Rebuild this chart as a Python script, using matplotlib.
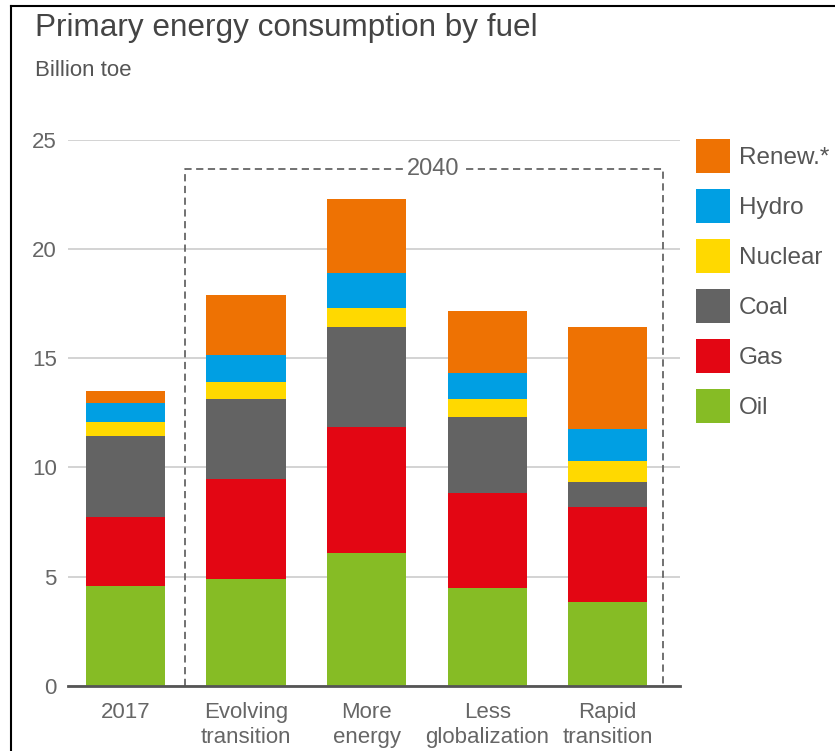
import matplotlib.pyplot as plt
from matplotlib.lines import Line2D

categories = ["2017", "Evolving\ntransition", "More\nenergy", "Less\nglobalization", "Rapid\ntransition"]
fuels = ["Oil", "Gas", "Coal", "Nuclear", "Hydro", "Renew.*"]
oil = [4.57, 4.87, 6.09, 4.49, 3.83]
gas = [3.14, 4.61, 5.75, 4.35, 4.36]
coal = [3.71, 3.64, 4.58, 3.47, 1.13]
nuclear = [0.65, 0.79, 0.88, 0.81, 0.96]
hydro = [0.88, 1.22, 1.62, 1.19, 1.47]
renew = [0.56, 2.75, 3.39, 2.84, 4.67]
colors = ["#86BC25", "#E30613", "#636363", "#FFD900", "#009FE3", "#EE7203"]

plt.rcParams['font.family'] = ['Liberation Sans', 'DejaVu Sans']

fig = plt.figure(figsize=(8.35, 7.51), dpi=100)
ax = fig.add_axes([0.0814, 0.0869, 0.733, 0.7267])

x = list(range(len(categories)))
bottom = [0] * len(categories)
handles = []
for vals, fuel, c in zip([oil, gas, coal, nuclear, hydro, renew], fuels, colors):
    b = ax.bar(x, vals, width=0.656, bottom=bottom, color=c, label=fuel, zorder=3)
    handles.append(b)
    bottom = [b0 + v for b0, v in zip(bottom, vals)]

ax.set_xlim(-0.477, 4.60)
ax.set_ylim(0, 25)
ax.set_yticks([0, 5, 10, 15, 20, 25])
ax.set_xticks(x)
ax.set_xticklabels(categories, fontsize=16, color="#666666", linespacing=1.25)
ax.tick_params(axis="y", labelsize=16, labelcolor="#666666", length=0, pad=8)
ax.tick_params(axis="x", length=0, pad=12)
ax.yaxis.grid(True, color="#cccccc", linewidth=1.2, zorder=0)
for s in ["top", "right", "left"]:
    ax.spines[s].set_visible(False)
ax.spines["bottom"].set_color("#555555")
ax.spines["bottom"].set_linewidth(2)
ax.spines["bottom"].set_zorder(4)

# dashed box around 2040 scenarios
bx0, bx1, by = 0.494, 4.461, 23.67
ax.plot([bx0, bx0, bx1, bx1], [0, by, by, 0], linestyle=(0, (4, 2.5)), color="#666666",
        linewidth=1.3, zorder=2, clip_on=False)
ax.text(2.55, by, "2040", ha="center", va="center", fontsize=17, color="#666666",
        bbox=dict(facecolor="white", edgecolor="none", pad=2), zorder=5)

leg = ax.legend(handles[::-1], fuels[::-1], loc="upper left", bbox_to_anchor=(696 / 835, 1 - 139 / 751),
                bbox_transform=fig.transFigure, frameon=False, fontsize=17.5, handlelength=1.4,
                handleheight=1.777, labelspacing=0.66, handletextpad=0.37, borderpad=0, borderaxespad=0)
for t in leg.get_texts():
    t.set_color("#555555")

fig.text(35 / 835, 1 - 28 / 751, "Primary energy consumption by fuel", fontsize=22.7, color="#444444",
         ha="left", va="center")
fig.text(35 / 835, 1 - 70 / 751, "Billion toe", fontsize=16, color="#555555", ha="left", va="center")

# screenshot frame on left and top
fig.add_artist(Line2D([11 / 835, 11 / 835], [0, 1 - 6 / 751], transform=fig.transFigure, color="black", linewidth=1.5))
fig.add_artist(Line2D([11 / 835, 1], [1 - 6 / 751, 1 - 6 / 751], transform=fig.transFigure, color="black", linewidth=1.5))

fig.savefig("out.png", dpi=100)
